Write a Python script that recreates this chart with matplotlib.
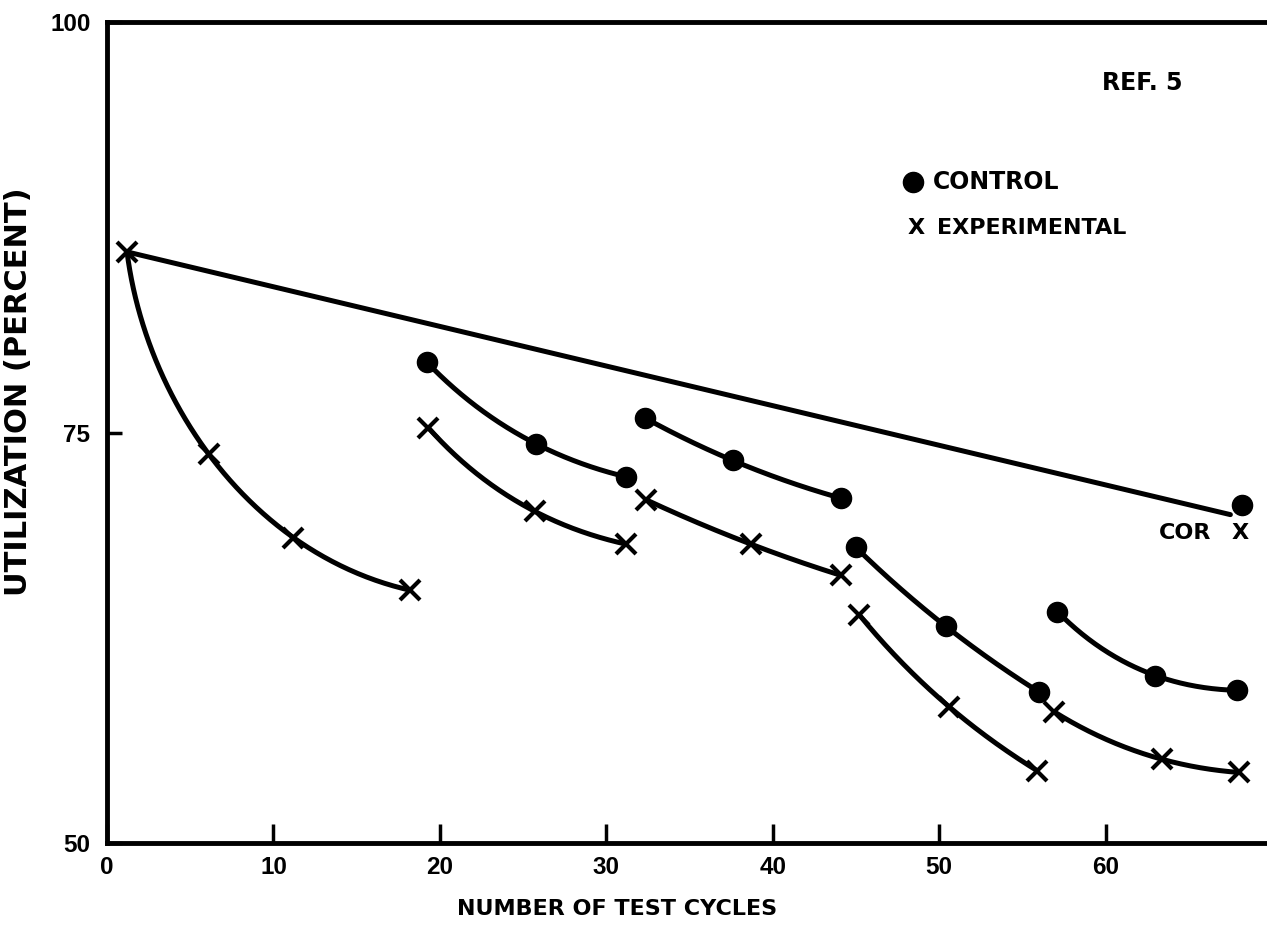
import numpy as np
import matplotlib
matplotlib.use("Agg")
import matplotlib.pyplot as plt

# Data (x = test cycles, y = utilization %)
control_x = [[19.2, 25.8, 31.2], [32.3, 37.6, 44.1], [45.0, 50.4, 56.0], [57.1, 63.0, 67.9]]
control_y = [[79.3, 74.3, 72.3], [75.9, 73.3, 71.0], [68.0, 63.2, 59.2], [64.1, 60.2, 59.3]]

exp_x = [[1.2, 6.1, 11.2, 18.2], [19.3, 25.7, 31.2], [32.4, 38.7, 44.1],
         [45.2, 50.6, 55.9], [56.9, 63.4, 68.0]]
exp_y = [[86.0, 73.7, 68.6, 65.4], [75.3, 70.2, 68.2], [70.9, 68.2, 66.3],
         [63.9, 58.3, 54.4], [58.0, 55.1, 54.3]]

# straight "COR" line and its end points
cor_line_x = [1.2, 67.5]
cor_line_y = [86.0, 70.0]
cor_control = (68.2, 70.6)
cor_exp = (68.1, 68.9)

x_ticks = [0, 10, 20, 30, 40, 50, 60]
y_ticks = [50, 75, 100]

# everything on the original is bold
plt.rcParams["font.family"] = ["Liberation Sans", "DejaVu Sans"]
plt.rcParams["font.weight"] = "bold"
plt.rcParams["xtick.labelsize"] = 17.5
plt.rcParams["ytick.labelsize"] = 17.5

LW = 3.6
LABFONT = dict(family="DejaVu Sans", weight="bold")

fig = plt.figure(figsize=(12.67, 9.25), dpi=100)
ax = fig.add_axes([0.0845, 0.0886, 0.9155, 0.8876])


def smooth(xs, ys):
    # parametric curve through the read points (chord-length parameter)
    xs, ys = np.asarray(xs, float), np.asarray(ys, float)
    t = np.concatenate([[0], np.cumsum(np.hypot(np.diff(xs), np.diff(ys)))])
    deg = len(xs) - 1
    cx = np.polyfit(t, xs, deg)
    cy = np.polyfit(t, ys, deg)
    tt = np.linspace(0, t[-1], 200)
    return np.polyval(cx, tt), np.polyval(cy, tt)


for xs, ys in zip(control_x, control_y):
    xx, yy = smooth(xs, ys)
    ax.plot(xx, yy, color="black", lw=LW, solid_capstyle="round")
    ax.plot(xs, ys, "o", color="black", ms=14.5, clip_on=False)

for xs, ys in zip(exp_x, exp_y):
    xx, yy = smooth(xs, ys)
    ax.plot(xx, yy, color="black", lw=LW, solid_capstyle="round")
    ax.plot(xs, ys, "x", color="black", ms=15, mew=3, clip_on=False)

ax.plot(cor_line_x, cor_line_y, color="black", lw=LW, solid_capstyle="round")
ax.plot(*cor_control, "o", color="black", ms=14.5, clip_on=False)
ax.text(63.2, 68.9, "COR", ha="left", va="center", fontsize=16, **LABFONT)
ax.text(*cor_exp, "X", ha="center", va="center", fontsize=16, **LABFONT)

# legend and reference note
ax.plot(48.4, 90.26, "o", color="black", ms=14.5)
ax.text(49.6, 90.26, "CONTROL", ha="left", va="center", fontsize=17, **LABFONT)
ax.text(48.6, 87.45, "X", ha="center", va="center", fontsize=16, **LABFONT)
ax.text(49.9, 87.45, "EXPERIMENTAL", ha="left", va="center", fontsize=16, **LABFONT)
ax.text(59.8, 96.3, "REF. 5", ha="left", va="center", fontsize=17, **LABFONT)

ax.set_xlim(0, 69.7)
ax.set_ylim(50, 100)
ax.set_xticks(x_ticks)
ax.set_yticks(y_ticks)
ax.tick_params(axis="x", direction="in", length=14, width=2.5, pad=9)
ax.tick_params(axis="y", direction="in", length=11, width=2.5, pad=12)

for s in ["left", "bottom", "top"]:
    ax.spines[s].set_linewidth(3.5)
ax.spines["right"].set_visible(False)

ax.set_xlabel("NUMBER OF TEST CYCLES", fontsize=16, **LABFONT)
ax.xaxis.set_label_coords(0.44, -0.068)
ax.set_ylabel("UTILIZATION (PERCENT)", fontsize=22, **LABFONT)
ax.yaxis.set_label_coords(-0.064, 0.55)

fig.savefig("out.png", dpi=100)
